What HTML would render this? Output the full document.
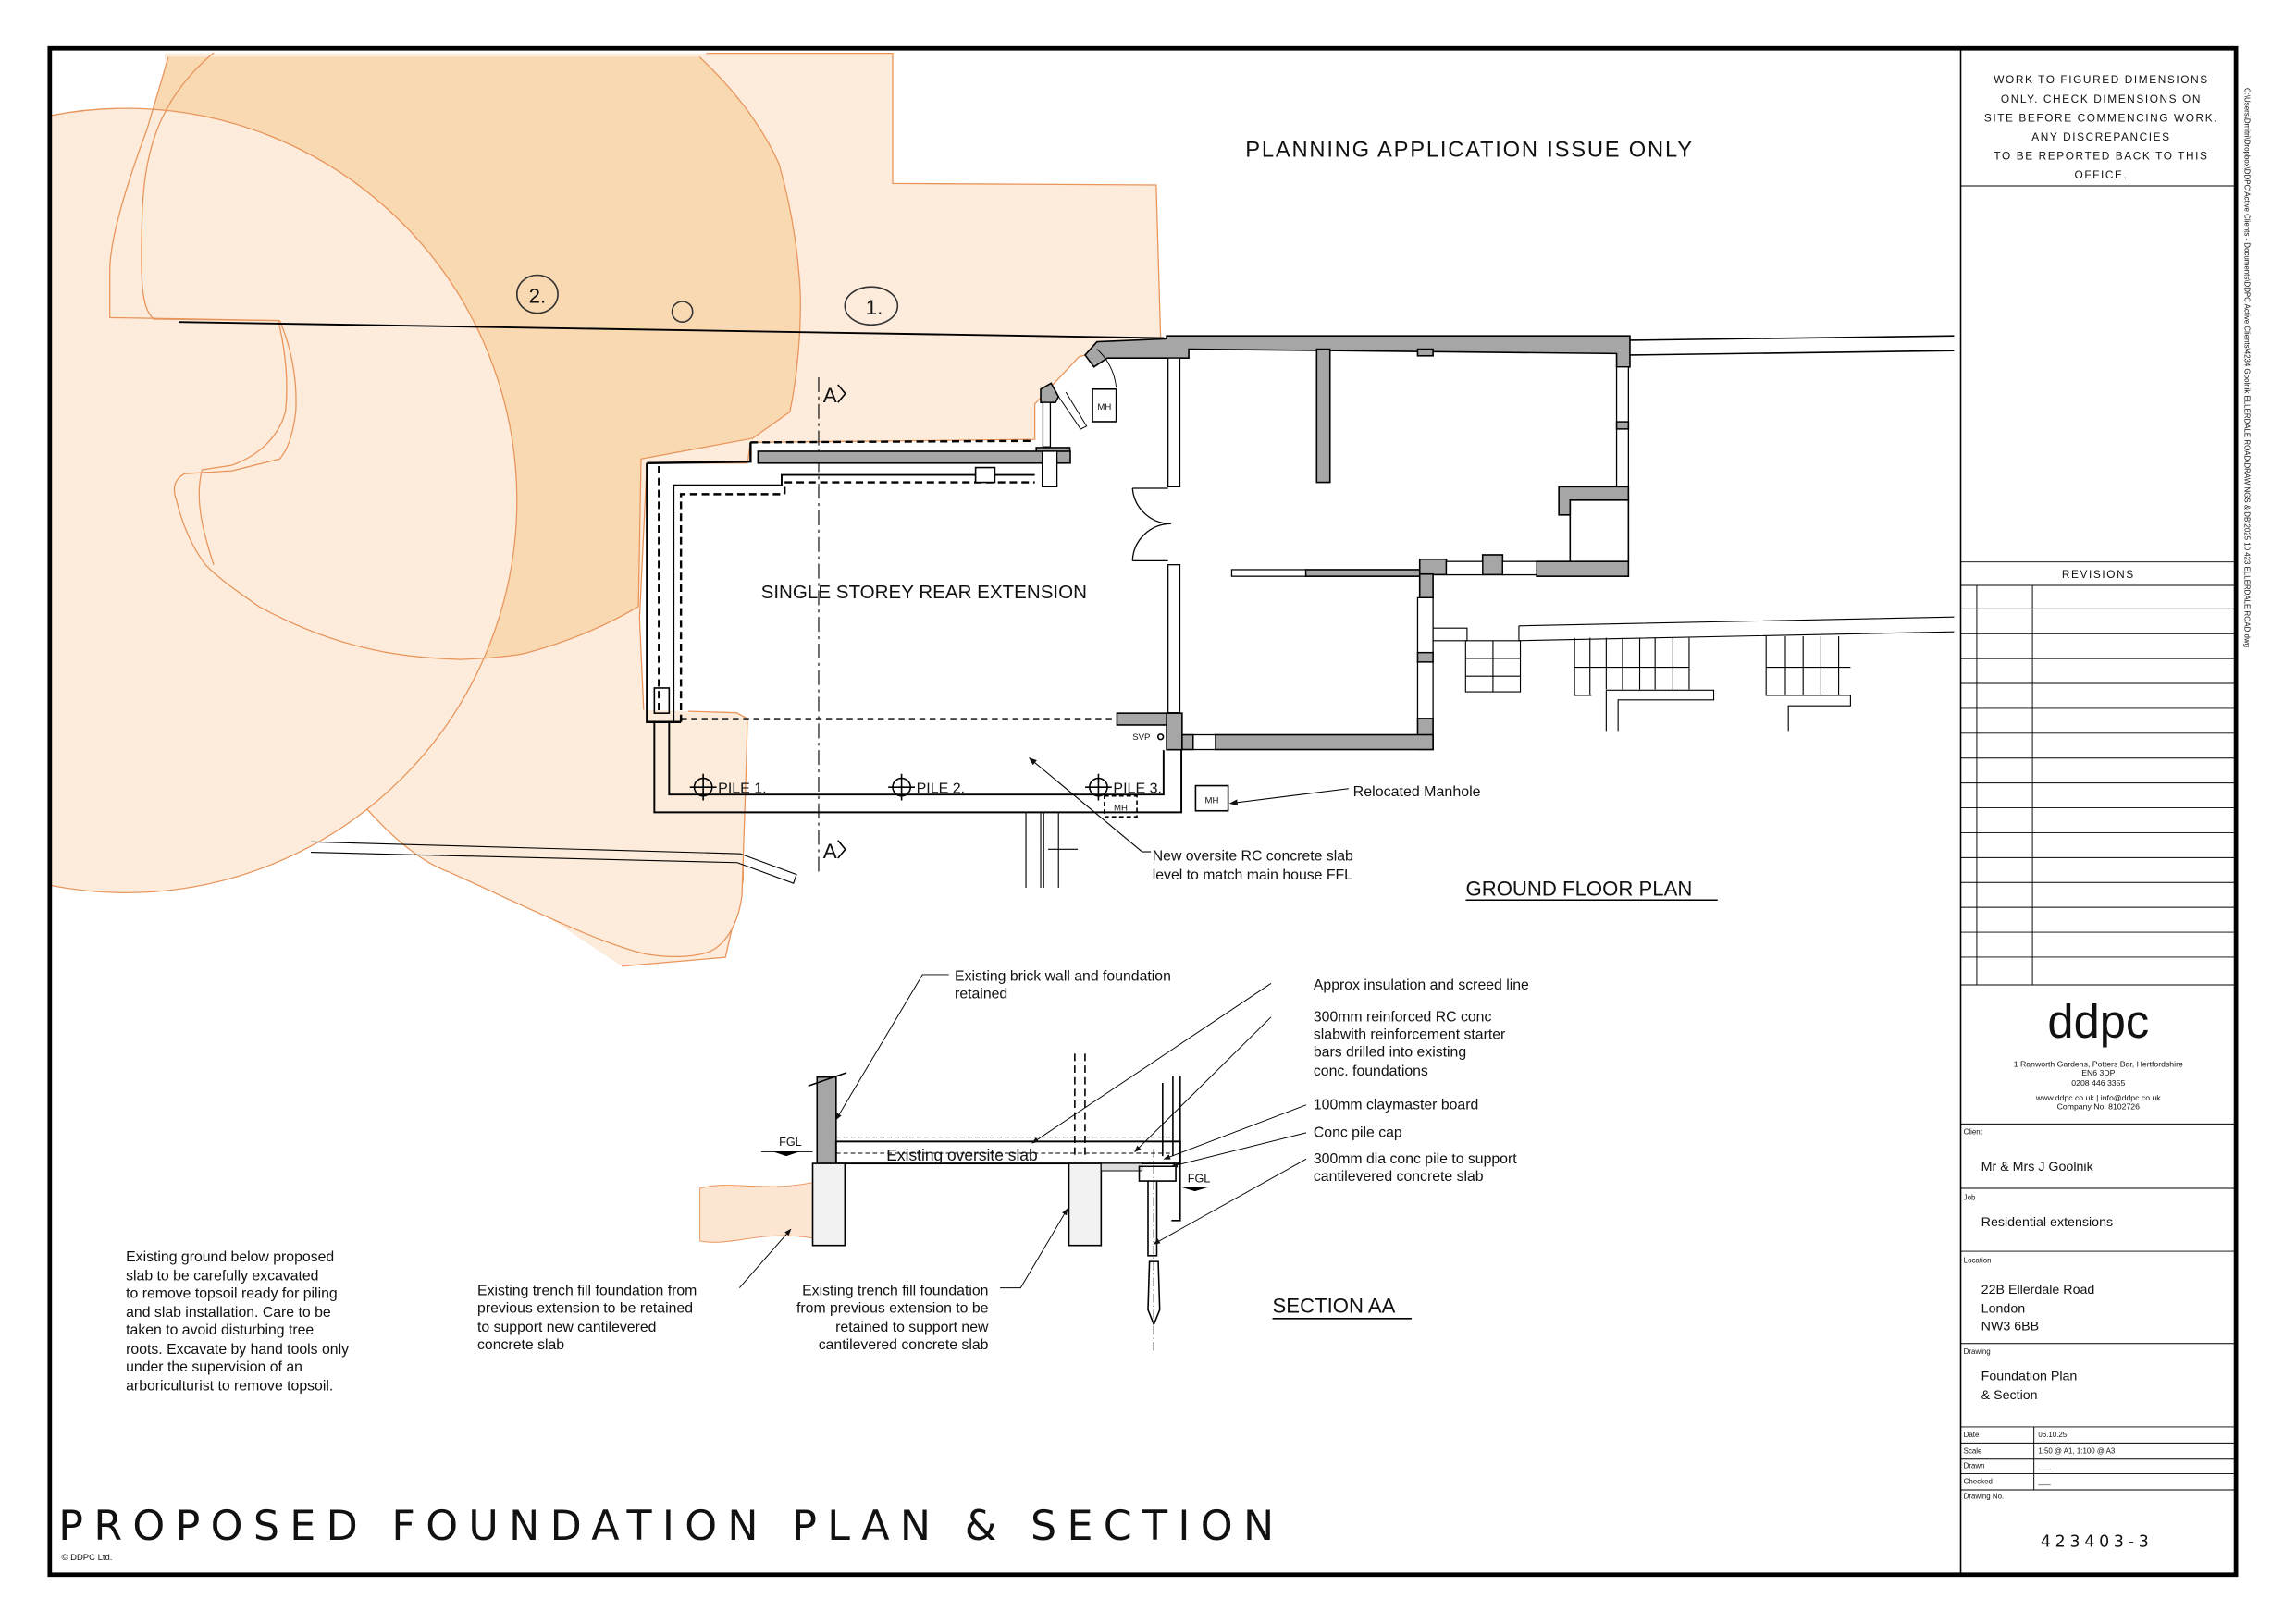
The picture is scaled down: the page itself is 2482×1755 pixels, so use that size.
<!DOCTYPE html>
<html><head><meta charset="utf-8"><style>
html,body{margin:0;padding:0;background:#fff}
svg{display:block}
text{font-family:"Liberation Sans",sans-serif;fill:#111}
.m{font-family:"DejaVu Sans","Liberation Sans",sans-serif}
</style></head><body>
<svg width="2482" height="1755" viewBox="0 0 1568 1109" preserveAspectRatio="none" xmlns="http://www.w3.org/2000/svg">
<defs>
<marker id="ar" markerWidth="8" markerHeight="6" refX="7" refY="3" orient="auto"><path d="M0,0 L8,3 L0,6 Z" fill="#111"/></marker>
<clipPath id="bx"><rect x="35" y="35" width="1300" height="1040"/></clipPath>
</defs>
<rect x="0" y="0" width="1568" height="1109" fill="#fff"/>
<g clip-path="url(#bx)">
<g transform="scale(1.011)">
<path d="M111,36 L603,36 L603,124 L781,125 L784,229 L729,241 L699,273 L699,297 L507,299 L505,313 L437,313 L432,418 L435,484 L502,488 L502,595 L490,647 L420,653 L250,540 L150,380 Z" fill="#fdecdb"/>
<path d="M477,36 L603,36 L603,124 L781,125 L784,229 L729,241 L699,273 L699,297 L507,299 L505,313 L437,313 L432,418 L435,484 L502,488 L502,595 L490,647 L420,653" fill="none" stroke="#e8945a" stroke-width="0.8"/>
</g>
<!-- bottom light shape -->
<path d="M136,333 L147.7,386 C180,450 215,510 249,551 C270,575 290,590 307,596 C360,620 410,645 441.5,652 C460,655 480,654 488.6,648 C500,640 505,625 506.7,612 C508,570 510,520 510.4,491 L503,487 L437.8,485 L436,414 L300,452 Z" fill="#fdecdb"/>
<path d="M136,333 C135,350 140,370 147.7,386 C180,450 215,510 249,551 C270,575 290,590 307,596 C360,620 410,645 441.5,652 C460,655 480,654 488.6,648 C500,640 505,625 506.7,612 C508,570 510,520 510.4,491 L503,487 L470,486" fill="none" stroke="#e8945a" stroke-width="0.8"/>
<!-- canopy 2 dark -->
<path d="M115,38.9 L100.5,88 C85,130 75,165 75,184.7 L75,217 L191,219 C200,240 203,262 202,281 C200,298 196,308 191,313.6 L158.5,321.7 L126,323.7 C118,328 118,335 120.5,341.8 C125,360 132,375 140.4,386 C150,396 165,406 176.7,414.4 C200,427 225,437 249,442.6 C270,448 295,450 314.5,450.6 C330,450 345,449 358,446.6 C390,438 415,427 436,414.4 L437.8,313.6 L514,299.5 L539.4,281.4 C545,255 547,225 546.6,200.8 C545,170 540,140 532,112 C520,85 500,60 477.7,38.9 Z" fill="#f9d9b2"/>
<!-- circle A light on top -->
<ellipse cx="86" cy="342" rx="267" ry="268" fill="#fdecdb"/>
<g fill="none" stroke="#e8945a" stroke-width="0.8">
<ellipse cx="86" cy="342" rx="267" ry="268"/>
<path d="M115,38.9 L100.5,88 C85,130 75,165 75,184.7 L75,217 L191,219 C200,240 203,262 202,281 C200,298 196,308 191,313.6 L158.5,321.7 L126,323.7 C118,328 118,335 120.5,341.8 C125,360 132,375 140.4,386 C150,396 165,406 176.7,414.4 C200,427 225,437 249,442.6 C270,448 295,450 314.5,450.6 C330,450 345,449 358,446.6 C390,438 415,427 436,414.4 L437.8,313.6 L514,299.5 L539.4,281.4 C545,255 547,225 546.6,200.8 C545,170 540,140 532,112 C520,85 500,60 477.7,38.9"/>
<path d="M146,36 C105,70 98,110 97,150 C96,190 96,210 105,218 L190,219 C195,240 197,262 195,281 C190,300 175,312 158,318 L138,321 C133,340 138,362 146,386"/>
</g>
</g>
<g transform="scale(1.011)">
<line x1="1101" y1="230" x2="1320" y2="227" stroke="#000"/><line x1="1101" y1="240" x2="1320" y2="237" stroke="#000"/>
<!-- section line -->
<line x1="553" y1="255" x2="553" y2="590" stroke="#000" stroke-dasharray="10,3,2,3" stroke-width="0.7"/>
<text x="556" y="272" font-size="14">A</text><path d="M566,260 l5,6 l-5,6" fill="none" stroke="#000"/>
<text x="556" y="580" font-size="14">A</text><path d="M566,568 l5,6 l-5,6" fill="none" stroke="#000"/>
<!-- main house walls -->
<g fill="#a6a6a6" stroke="#000" stroke-width="1">
<path d="M741,231 L788,229 L788,227 L1101,227 L1101,248 L1092,248 L1092,239 L803,236 L803,242 L748,242 L739,248 L733,240 Z"/>
<rect x="957.6" y="236" width="10.4" height="4.5"/>
<rect x="889.4" y="236" width="9" height="90"/>
<rect x="1092" y="285" width="8" height="5"/>
<path d="M1053,329 L1100,329 L1100,338 L1060.6,338 L1060.6,348 L1053,348 Z"/>
<rect x="1038" y="379.5" width="62" height="10"/>
<rect x="1001.5" y="375" width="13.5" height="13.4"/>
<rect x="959" y="378" width="18" height="10.4"/>
<rect x="959" y="388" width="9" height="16"/>
<rect x="882" y="385" width="77" height="4.5"/>
<rect x="957.6" y="441" width="10.4" height="6.5"/>
<rect x="957.6" y="485.5" width="10.4" height="21"/>
<rect x="821" y="496.6" width="147" height="10"/>
<rect x="788" y="482" width="10.5" height="24.7"/>
<rect x="798.5" y="496.6" width="7.5" height="10"/>
<rect x="754.5" y="482" width="33.5" height="8"/>
<path d="M703,263 L710,259 L715,268 L713,272 L703,272 Z"/>
<rect x="700" y="302.5" width="22.7" height="9"/>
<rect x="512" y="305" width="211" height="8"/>
</g>
<g fill="#fff" stroke="#000" stroke-width="0.8">
<rect x="789" y="242" width="8" height="87"/><rect x="789" y="381.7" width="8" height="100"/>
<rect x="1092" y="248" width="8" height="37"/><rect x="1092" y="290" width="8" height="39"/>
<rect x="832" y="385" width="50" height="4.5"/>
<rect x="957.6" y="404" width="10.4" height="37"/><rect x="957.6" y="447.5" width="10.4" height="38"/>
<rect x="806" y="496.6" width="15" height="10"/>
<rect x="704.5" y="311.4" width="9" height="15"/>
<rect x="704.5" y="272" width="5" height="30"/>
<rect x="704" y="305" width="10" height="24"/>
<rect x="1015" y="379.5" width="23" height="9"/>
<rect x="977" y="379.5" width="24.5" height="9"/>
</g>
<path d="M1060.6,338 V379.5 M1100,338 V379.5" stroke="#000" fill="none"/>
<path d="M715,268 L730,290 L734,288 L720,265" fill="none" stroke="#000" stroke-width="0.6"/>
<path d="M741,236 A40,40 0 0 1 754,262" fill="none" stroke="#000" stroke-width="0.6"/>
<path d="M765,330 h24 M765,379 h24 M765,330 A26,26 0 0 0 791,354 M765,379 A26,26 0 0 1 791,354" fill="none" stroke="#000" stroke-width="0.8"/>
<rect x="738" y="263" width="16" height="22" fill="#fff" stroke="#000"/><text x="746" y="277" font-size="6" text-anchor="middle">MH</text>
<!-- extension outline -->
<path d="M437,313 L507,312 L507,299" fill="none" stroke="#000" stroke-width="1.5"/>
<path d="M507,299 L699,298" fill="none" stroke="#000" stroke-width="1.5" stroke-dasharray="5,3"/>
<path d="M437,313 L437,488 L460,488" fill="none" stroke="#000" stroke-width="1.5"/>
<path d="M445,315 L445,482" fill="none" stroke="#000" stroke-width="1.3" stroke-dasharray="5,3"/>
<path d="M455,488 L455,328 L528,328 L528,321 L699,321" fill="none" stroke="#000" stroke-width="1.2"/>
<path d="M460,488 L460,334 L530,334 L530,326 L699,326" fill="none" stroke="#000" stroke-width="1.5" stroke-dasharray="5,3"/>
<line x1="460" y1="486" x2="754" y2="486" stroke="#000" stroke-dasharray="4,3" stroke-width="1.5"/>
<rect x="442" y="465" width="10" height="17" fill="none" stroke="#000"/>
<path d="M442,488 L442,549 L798,549 L798,507 M452,488 L452,537 L786,537 L786,507" fill="none" stroke="#000" stroke-width="1.2"/>
<rect x="659" y="316" width="13" height="10" fill="#fff" stroke="#000"/>
<text x="765" y="500" font-size="6">SVP</text><circle cx="784" cy="498" r="1.8" fill="none" stroke="#000"/>
<g stroke="#000" fill="none"><circle cx="475" cy="532" r="6"/><path d="M466,532 h18 M475,523 v18"/>
<circle cx="609" cy="532" r="6"/><path d="M600,532 h18 M609,523 v18"/>
<circle cx="742" cy="532" r="6"/><path d="M733,532 h18 M742,523 v18"/></g>
<text x="485" y="536" font-size="10">PILE 1.</text><text x="619" y="536" font-size="10">PILE 2.</text><text x="752" y="536" font-size="10">PILE 3.</text>
<rect x="746" y="538" width="22" height="14" fill="none" stroke="#000" stroke-dasharray="3,2"/><text x="757" y="548" font-size="6" text-anchor="middle">MH</text>
<rect x="807.6" y="531" width="22" height="17" fill="#fff" stroke="#000"/><text x="818.6" y="543" font-size="6" text-anchor="middle">MH</text>
<line x1="911" y1="533" x2="831" y2="543" stroke="#000" stroke-width="0.7" marker-end="url(#ar)"/>
<text x="914" y="538" font-size="10">Relocated Manhole</text>
<path d="M693,549 V600 M703,549 V600 M705,549 V600 M715,549 V600 M708,574 H728" stroke="#000" stroke-width="0.7" fill="none"/>
<path d="M210,569 L500,577 L538,591 L536,597 L498,583 L210,576" fill="none" stroke="#000" stroke-width="0.7"/>
<!-- right steps -->
<g fill="none" stroke="#000" stroke-width="0.7">
<path d="M968,424.5 H991 V433 H968"/><path d="M990,433 H1027 V467.6 H990 V433 M990,445 H1027 M990,457 H1027 M1008.5,433 V467.6"/>
<path d="M1026,423 L1320,417 M1026,423 V433 L1320,427"/>
<path d="M1063.6,431 V470 H1075 M1074,431 V470 M1085,431 V466 M1096,431 V466 M1107.6,431 V466 M1118,431 V466 M1130,431 V466 M1063.6,451 H1141 M1141,431 V466"/>
<path d="M1085,466.5 H1157.6 V473 H1093 V494 M1085,466.5 V494"/>
<path d="M1193,430 V470 H1206 M1206,430 V470 M1218,430 V470 M1230,430 V470 M1242,430 V470 M1193,451 H1250 M1200,470 H1250 V477 H1208 V494"/>
</g>
</g>
<!-- border -->
<rect x="34" y="33" width="1493" height="1043" fill="none" stroke="#000" stroke-width="3"/>
<line x1="1339" y1="33" x2="1339" y2="1076" stroke="#000" stroke-width="1"/>
<text x="1003" y="107" font-size="15" text-anchor="middle" fill="#555" textLength="305">PLANNING APPLICATION ISSUE ONLY</text>
<ellipse cx="367" cy="201" rx="14" ry="13" fill="none" stroke="#333"/><text x="367" y="207" font-size="14" text-anchor="middle">2.</text>
<circle cx="466" cy="213" r="7" fill="none" stroke="#333"/>
<ellipse cx="595" cy="209" rx="18" ry="13" fill="none" stroke="#333"/><text x="597" y="215" font-size="14" text-anchor="middle">1.</text>
<line x1="122" y1="220" x2="795" y2="231" stroke="#000" stroke-width="1.2"/>
<text x="631" y="409" font-size="13" text-anchor="middle">SINGLE STOREY REAR EXTENSION</text>
<line x1="780" y1="582" x2="703" y2="518" stroke="#000" stroke-width="0.7" marker-end="url(#ar)"/>
<line x1="780" y1="582" x2="786" y2="582" stroke="#000" stroke-width="0.7"/>
<text x="787" y="588" font-size="10">New oversite RC concrete slab</text>
<text x="787" y="601" font-size="10">level to match main house FFL</text>
<text x="1001" y="612" font-size="14">GROUND FLOOR PLAN</text><line x1="1001" y1="615" x2="1173" y2="615" stroke="#000"/>
<!-- section -->
<path d="M478,812 C500,806 520,815 555,808 L555,846 C520,840 500,852 478,848 Z" fill="#fde6d1" stroke="#e8945a" stroke-width="0.6"/>
<rect x="558" y="736" width="13" height="59" fill="#a6a6a6" stroke="#000"/>
<path d="M552,742 L578,733" stroke="#000"/>
<rect x="571" y="780" width="235" height="15" fill="#fff" stroke="#000" stroke-width="1.2"/>
<line x1="571" y1="777" x2="800" y2="777" stroke="#000" stroke-width="0.6" stroke-dasharray="3,2"/>
<line x1="571" y1="788" x2="800" y2="788" stroke="#000" stroke-width="0.6" stroke-dasharray="3,2"/>
<text x="657" y="793" font-size="11" text-anchor="middle">Existing oversite slab</text>
<rect x="555" y="795" width="22" height="56" fill="#f2f2f2" stroke="#000"/>
<rect x="730" y="795" width="22" height="56" fill="#f2f2f2" stroke="#000"/>
<path d="M734,720 V790 M741,720 V790" stroke="#000" stroke-dasharray="5,3"/>
<rect x="752" y="795" width="28" height="5" fill="#ddd" stroke="#000" stroke-width="0.6"/>
<path d="M794,740 V790 M801,735 V790 M806,735 V834 L800,834" fill="none" stroke="#000"/>
<path d="M778,797 H803 V807 H778 Z M784,807 V858 H790 V807" fill="none" stroke="#000"/>
<path d="M785,862 L784,895 L788,905 L792,895 L791,862 Z" fill="none" stroke="#000"/>
<line x1="788" y1="785" x2="788" y2="925" stroke="#000" stroke-dasharray="6,2,1,2" stroke-width="0.8"/>
<text x="532" y="783" font-size="8">FGL</text><path d="M528,787 h18 l-9,3 z" fill="#000"/><line x1="520" y1="787" x2="555" y2="787" stroke="#000" stroke-width="0.6"/>
<text x="811" y="808" font-size="8">FGL</text><path d="M806,811 h20 l-10,3 z" fill="#000"/>
<text x="869" y="897" font-size="14">SECTION AA</text><line x1="869" y1="901" x2="964" y2="901" stroke="#000"/>
<g stroke="#000" stroke-width="0.6" fill="none">
<path d="M648,666 H630 L571,765" marker-end="url(#ar)"/>
<path d="M868,672 L705,781" marker-end="url(#ar)"/>
<path d="M868,695 L775,787" marker-end="url(#ar)"/>
<path d="M892,755 L795,792" marker-end="url(#ar)"/>
<path d="M892,774 L800,797" marker-end="url(#ar)"/>
<path d="M892,792 L788,850" marker-end="url(#ar)"/>
<path d="M505,880 L540,840" marker-end="url(#ar)"/>
<path d="M683,880 H697 L729,826" marker-end="url(#ar)"/>
</g>
<g font-size="10">
<text x="652" y="670">Existing brick wall and foundation</text><text x="652" y="682">retained</text>
<text x="897" y="676">Approx insulation and screed line</text>
<text x="897" y="698">300mm reinforced RC conc</text><text x="897" y="710">slabwith reinforcement starter</text><text x="897" y="722">bars drilled into existing</text><text x="897" y="735">conc. foundations</text>
<text x="897" y="758">100mm claymaster board</text>
<text x="897" y="777">Conc pile cap</text>
<text x="897" y="795">300mm dia conc pile to support</text><text x="897" y="807">cantilevered concrete slab</text>
<text x="326" y="885">Existing trench fill foundation from</text><text x="326" y="897">previous extension to be retained</text><text x="326" y="910">to support new cantilevered</text><text x="326" y="922">concrete slab</text>
<g text-anchor="end"><text x="675" y="885">Existing trench fill foundation</text><text x="675" y="897">from previous extension to be</text><text x="675" y="910">retained to support new</text><text x="675" y="922">cantilevered concrete slab</text></g>
<text x="86" y="862">Existing ground below proposed</text><text x="86" y="875">slab to be carefully excavated</text><text x="86" y="887">to remove topsoil ready for piling</text><text x="86" y="900">and slab installation. Care to be</text><text x="86" y="912">taken to avoid disturbing tree</text><text x="86" y="925">roots. Excavate by hand tools only</text><text x="86" y="937">under the supervision of an</text><text x="86" y="950">arboriculturist to remove topsoil.</text>
</g>
<text x="40" y="1052" font-size="28" class="m" textLength="830" lengthAdjust="spacing">PROPOSED FOUNDATION PLAN &amp; SECTION</text>
<text x="42" y="1066" font-size="6">© DDPC Ltd.</text>
<!-- title block -->
<g class="m" font-size="7.5" text-anchor="middle" letter-spacing="1">
<text x="1435" y="57">WORK TO FIGURED DIMENSIONS</text><text x="1435" y="70">ONLY. CHECK DIMENSIONS ON</text><text x="1435" y="83">SITE BEFORE COMMENCING WORK.</text><text x="1435" y="96">ANY DISCREPANCIES</text><text x="1435" y="109">TO BE REPORTED BACK TO THIS</text><text x="1435" y="122">OFFICE.</text>
<text x="1433" y="395">REVISIONS</text></g>
<g stroke="#000" stroke-width="0.6" fill="none">
<line x1="1339" y1="127" x2="1527" y2="127"/>
<line x1="1339" y1="384" x2="1527" y2="384"/>
<line x1="1339" y1="400" x2="1527" y2="400"/>
<path d="M1339,416 H1527 M1339,433 H1527 M1339,450 H1527 M1339,467 H1527 M1339,484 H1527 M1339,501 H1527 M1339,518 H1527 M1339,535 H1527 M1339,552 H1527 M1339,569 H1527 M1339,586 H1527 M1339,603 H1527 M1339,620 H1527 M1339,637 H1527 M1339,654 H1527"/>
<line x1="1339" y1="673" x2="1527" y2="673"/>
<line x1="1350" y1="400" x2="1350" y2="673"/><line x1="1388" y1="400" x2="1388" y2="673"/>
<line x1="1339" y1="768" x2="1527" y2="768"/><line x1="1339" y1="812" x2="1527" y2="812"/><line x1="1339" y1="855" x2="1527" y2="855"/><line x1="1339" y1="918" x2="1527" y2="918"/>
<path d="M1339,975 H1527 M1339,986 H1527 M1339,997 H1527 M1339,1007 H1527 M1339,1018 H1527 M1389,975 V1018"/>
</g>
<text x="1433" y="709" font-size="32" text-anchor="middle" fill="#222">ddpc</text>
<g font-size="5.5" text-anchor="middle" class="m"><text x="1433" y="729">1 Ranworth Gardens, Potters Bar, Hertfordshire</text><text x="1433" y="735">EN6 3DP</text><text x="1433" y="742">0208 446 3355</text><text x="1433" y="752">www.ddpc.co.uk | info@ddpc.co.uk</text><text x="1433" y="758">Company No. 8102726</text></g>
<g font-size="5" class="m"><text x="1341" y="775">Client</text><text x="1341" y="820">Job</text><text x="1341" y="863">Location</text><text x="1341" y="925">Drawing</text>
<text x="1341" y="982">Date</text><text x="1341" y="993">Scale</text><text x="1341" y="1003">Drawn</text><text x="1341" y="1014">Checked</text><text x="1341" y="1024">Drawing No.</text>
<text x="1392" y="982">06.10.25</text><text x="1392" y="993">1:50 @ A1, 1:100 @ A3</text><text x="1392" y="1003">___</text><text x="1392" y="1014">___</text></g>
<g font-size="9" class="m"><text x="1353" y="800">Mr &amp; Mrs J Goolnik</text><text x="1353" y="838">Residential extensions</text>
<text x="1353" y="884">22B Ellerdale Road</text><text x="1353" y="897">London</text><text x="1353" y="909">NW3 6BB</text>
<text x="1353" y="943">Foundation Plan</text><text x="1353" y="956">&amp; Section</text></g>
<text x="1432" y="1057" font-size="11" text-anchor="middle" letter-spacing="3" class="m">423403-3</text>
<text transform="translate(1533,60) rotate(90)" font-size="5" fill="#333">C:\Users\Dmitri\Dropbox\DDPC\Active Clients - Documents\DDPC Active Clients\4234 Goolnik ELLERDALE ROAD\DRAWINGS &amp; DB\2025 10 423 ELLERDALE ROAD.dwg</text>
</svg>
</body></html>
